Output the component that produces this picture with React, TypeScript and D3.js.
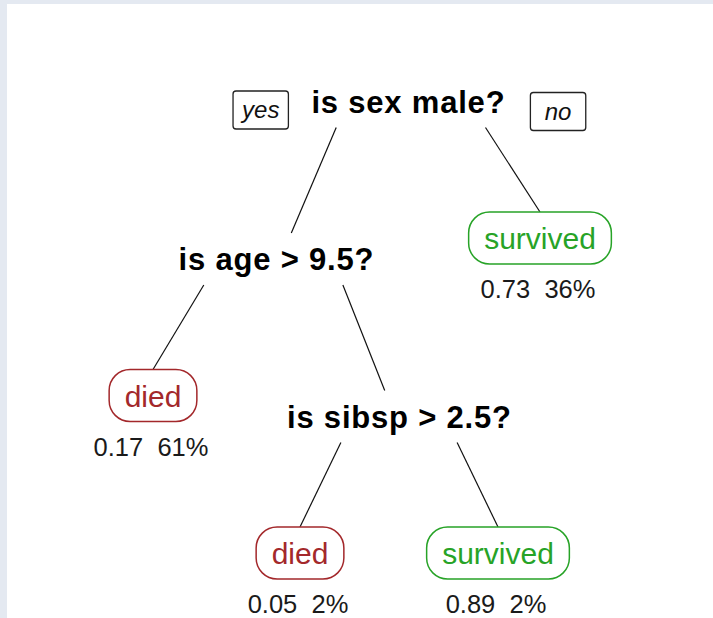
import { useRef, useEffect } from 'react';
import * as d3 from 'd3';

// rpart tree on the titanic data
const nodeIds = ["n1", "n2", "n3", "n4", "n5", "n10", "n11"];
const nodeParents = ["", "n1", "n1", "n2", "n2", "n5", "n5"];
const nodeLabels = ["is sex male?", "is age > 9.5?", "survived", "died", "is sibsp > 2.5?", "died", "survived"];
const nodeProbs = [null, null, 0.73, 0.17, null, 0.05, 0.89];
const nodePcts = [null, null, 36, 61, null, 2, 2];
const branchLabels = ["yes", "no"];

const classColors: Record<string, string> = { died: "#a3282b", survived: "#27a327" };

export default function App() {
    const svgRef = useRef<SVGSVGElement>(null);

    useEffect(() => {
        const width = 713;
        const height = 618;
        const font = "'Liberation Sans', Arial, sans-serif";

        const svg = d3.select(svgRef.current)
            .attr("width", width)
            .attr("height", height);
        svg.selectAll("*").remove();

        //Background + white panel
        svg.append("rect").attr("width", width).attr("height", height).attr("fill", "#e4e9f1");
        svg.append("rect").attr("x", 7).attr("y", 4).attr("width", width - 7).attr("height", height - 4).attr("fill", "#fff");

        const rows = nodeIds.map((id, i) => ({
            id, parent: nodeParents[i] || null, label: nodeLabels[i],
            prob: nodeProbs[i], pct: nodePcts[i]
        }));
        const root = d3.stratify<any>().id(d => d.id).parentId(d => d.parent)(rows);

        //Layout: depth -> y, children spread left / right of parent
        const yScale = d3.scaleLinear().domain([0, 3]).range([101.5, 574]);
        const spread = [0, 132, 123, 99];
        const leafShift = 21;
        const boxH = 52;
        root.each((n: any) => {
            if (!n.parent) n.x = 408;
            else {
                const side = n.parent.children.indexOf(n) === 0 ? -1 : 1;
                n.x = n.parent.x + side * spread[n.depth];
            }
            n.y = n.children ? yScale(n.depth) : yScale(n.depth) - leafShift;
        });

        //Branch lines
        const links = svg.append("g").attr("stroke", "#111").attr("stroke-width", 1.2);
        root.links().forEach(({ source, target }: any) => {
            const sx = source.x + 0.46 * (target.x - source.x);
            const sy = source.y;
            const leaf = !target.children;
            const tx = target.x;
            const ty = leaf ? target.y - boxH / 2 : target.y + 10;
            const y0 = source.y + 26;
            const y1 = leaf ? target.y - boxH / 2 : target.y - 26;
            const xAt = (y: number) => sx + (tx - sx) * (y - sy) / (ty - sy);
            links.append("line")
                .attr("x1", xAt(y0)).attr("y1", y0)
                .attr("x2", xAt(y1)).attr("y2", y1);
        });

        //Nodes
        root.each((n: any) => {
            const d = n.data;
            if (n.children) {
                const t = svg.append("text")
                    .attr("x", n.x + 0.4).attr("y", n.y + 11)
                    .attr("text-anchor", "middle")
                    .attr("font-family", font)
                    .attr("font-weight", "700")
                    .attr("font-size", "31px")
                    .attr("letter-spacing", "0.8px")
                    .attr("fill", "#000")
                    .text(d.label);

                if (!n.parent) {
                    //yes / no boxes beside the root
                    const bb = (t.node() as SVGTextElement).getBBox();
                    const g = svg.append("g");
                    const texts = branchLabels.map(lab => g.append("text")
                        .attr("text-anchor", "middle")
                        .attr("font-family", font)
                        .attr("font-style", "italic")
                        .attr("font-size", "24px")
                        .attr("fill", "#111")
                        .text(lab));
                    const w = d3.max(texts, tt => (tt.node() as SVGTextElement).getComputedTextLength())! + 18;
                    texts.forEach((tt, i) => {
                        const cx = i === 0 ? bb.x - 23 - w / 2 : bb.x + bb.width + 25 + w / 2;
                        const cy = n.y + 8.5 + i * 1.5;
                        tt.attr("x", cx).attr("y", cy + 8);
                        g.insert("rect", "text")
                            .attr("x", cx - w / 2).attr("y", cy - 19)
                            .attr("width", w).attr("height", 38)
                            .attr("rx", 3)
                            .attr("fill", "#fff")
                            .attr("stroke", "#222")
                            .attr("stroke-width", 1.3);
                    });
                }
            } else {
                const col = classColors[d.label];
                const g = svg.append("g");
                const t = g.append("text")
                    .attr("x", n.x).attr("y", n.y + 11)
                    .attr("text-anchor", "middle")
                    .attr("font-family", font)
                    .attr("font-size", "30px")
                    .attr("fill", col)
                    .text(d.label);
                const w = (t.node() as SVGTextElement).getComputedTextLength() + 31;
                g.insert("rect", "text")
                    .attr("x", n.x - w / 2).attr("y", n.y - boxH / 2)
                    .attr("width", w).attr("height", boxH)
                    .attr("rx", 21)
                    .attr("fill", "#fff")
                    .attr("stroke", col)
                    .attr("stroke-width", 1.5);

                svg.append("text")
                    .attr("x", n.x - 2).attr("y", n.y + boxH / 2 + 34)
                    .attr("text-anchor", "middle")
                    .attr("xml:space", "preserve")
                    .style("white-space", "pre")
                    .attr("font-family", font)
                    .attr("font-size", "25.5px")
                    .attr("fill", "#1a1a1a")
                    .text(`${d3.format(".2f")(d.prob)}  ${d.pct}%`);
            }
        });
    }, []);

    return <svg ref={svgRef} style={{ position: "absolute", left: 0, top: 0 }} />;
}
